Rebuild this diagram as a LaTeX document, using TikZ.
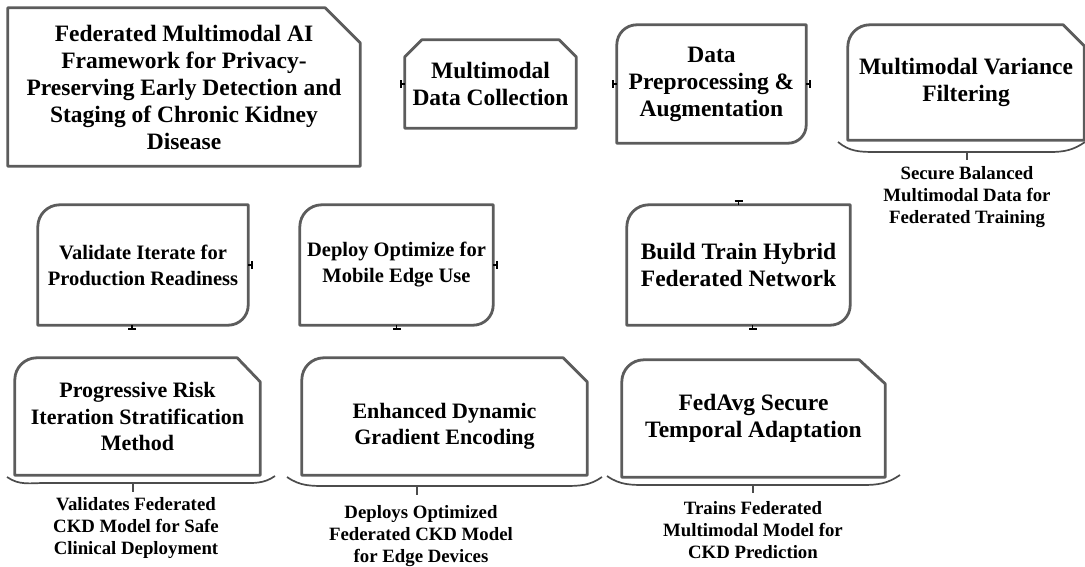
\documentclass[tikz,border=0pt]{standalone}
\usepackage{fontspec}
\setmainfont{Liberation Serif}
\usetikzlibrary{positioning}
\usetikzlibrary{arrows.meta}

\begin{document}
\begin{tikzpicture}[x=1pt,y=1pt,
	boxline/.style={draw=black!64, line width=2.8pt, line join=round},
	braceline/.style={draw=black!70, line width=1.7pt},
	stub/.style={-{Bar[width=8pt,line width=2pt]}, line width=1.8pt},
	bigtxt/.style={font=\bfseries\fontsize{23.5}{27}\selectfont, align=center, inner sep=0pt},
	midtxt/.style={font=\bfseries\fontsize{22}{26.5}\selectfont, align=center, inner sep=0pt},
	smalltxt/.style={font=\bfseries\fontsize{20.5}{26}\selectfont, align=center, inner sep=0pt},
	captxt/.style={font=\bfseries\fontsize{18.8}{22}\selectfont, align=center, inner sep=0pt}]
				\useasboundingbox (0,0) rectangle (1085,566);

				% first row
				\node[bigtxt, minimum width=352pt, minimum height=158pt] (frame) at (184,479) {Federated Multimodal AI\\Framework for Privacy-\\Preserving Early Detection and\\Staging of Chronic Kidney\\Disease};
				\node[bigtxt, minimum width=171pt, minimum height=88pt] (collect) at (490.5,482) {Multimodal\\Data Collection};
				\node[bigtxt, minimum width=189pt, minimum height=118pt] (prep) at (711.5,482) {Data\\Preprocessing \&\\Augmentation};
				\node[bigtxt, minimum width=236pt, minimum height=115pt] (filter) at (966,483.5) {Multimodal Variance\\Filtering};

				% second row
				\node[smalltxt, minimum width=210pt, minimum height=120pt] (validate) at (143,301) {Validate Iterate for\\Production Readiness};
				\node[smalltxt, minimum width=193pt, minimum height=120pt] (deploy) at (396.5,301) {Deploy Optimize for\\Mobile Edge Use};
				\node[bigtxt, minimum width=223pt, minimum height=120pt] (build) at (738.5,301) {Build Train Hybrid\\Federated Network};

				% third row
				\node[midtxt, minimum width=245pt, minimum height=117pt] (risk) at (137.5,149.5) {Progressive Risk\\Iteration Stratification\\Method};
				\node[midtxt, minimum width=285pt, minimum height=117pt] (grad) at (444.5,149.5) {\rule{0pt}{35pt}Enhanced Dynamic\\Gradient Encoding};
				\node[bigtxt, minimum width=263pt, minimum height=117pt] (fedavg) at (753.5,147.5) {FedAvg Secure\\Temporal Adaptation};

				% outlines
				\draw[boxline] (frame.north west) -- ([xshift=-35pt]frame.north east) -- ([yshift=-35pt]frame.north east) -- (frame.south east) -- (frame.south west) -- cycle;
				\draw[boxline] ([yshift=-17pt]collect.north west) -- ([xshift=17pt]collect.north west) -- ([xshift=-17pt]collect.north east) -- ([yshift=-17pt]collect.north east) -- (collect.south east) -- (collect.south west) -- cycle;
				\draw[boxline] ([yshift=-20pt]prep.north west) arc[start angle=180,end angle=90,radius=20pt] -- (prep.north east) -- ([yshift=18pt]prep.south east) arc[start angle=0,end angle=-90,radius=18pt] -- (prep.south west) -- cycle;
				\draw[boxline] ([yshift=-22pt]filter.north west) arc[start angle=180,end angle=90,radius=22pt] -- ([xshift=-21pt]filter.north east) -- ([yshift=-21pt]filter.north east) -- (filter.south east) -- (filter.south west) -- cycle;
				\draw[boxline] ([yshift=-22pt]validate.north west) arc[start angle=180,end angle=90,radius=22pt] -- (validate.north east) -- ([yshift=20pt]validate.south east) arc[start angle=0,end angle=-90,radius=20pt] -- (validate.south west) -- cycle;
				\draw[boxline] ([yshift=-22pt]deploy.north west) arc[start angle=180,end angle=90,radius=22pt] -- (deploy.north east) -- ([yshift=20pt]deploy.south east) arc[start angle=0,end angle=-90,radius=20pt] -- (deploy.south west) -- cycle;
				\draw[boxline] ([yshift=-22pt]build.north west) arc[start angle=180,end angle=90,radius=22pt] -- (build.north east) -- ([yshift=20pt]build.south east) arc[start angle=0,end angle=-90,radius=20pt] -- (build.south west) -- cycle;
				\draw[boxline] ([yshift=-22pt]risk.north west) arc[start angle=180,end angle=90,radius=22pt] -- ([xshift=-23pt]risk.north east) -- ([yshift=-24pt]risk.north east) -- (risk.south east) -- (risk.south west) -- cycle;
				\draw[boxline] ([yshift=-22pt]grad.north west) arc[start angle=180,end angle=90,radius=22pt] -- ([xshift=-24pt]grad.north east) -- ([yshift=-24pt]grad.north east) -- (grad.south east) -- (grad.south west) -- cycle;
				\draw[boxline] ([yshift=-22pt]fedavg.north west) arc[start angle=180,end angle=90,radius=22pt] -- ([xshift=-26pt]fedavg.north east) -- ([yshift=-24pt]fedavg.north east) -- (fedavg.south east) -- (fedavg.south west) -- cycle;

				% braces and outputs
				\node[captxt] (capfilter) at (967,369) {Secure Balanced\\Multimodal Data for\\Federated Training};
				\node[captxt] (caprisk) at (136,38) {Validates Federated\\CKD Model for Safe\\Clinical Deployment};
				\node[captxt] (capgrad) at (421,30) {Deploys Optimized\\Federated CKD Model\\for Edge Devices};
				\node[captxt] (capfed) at (753,36) {Trains Federated\\Multimodal Model for\\CKD Prediction};

				\coordinate (bfilter) at (967,414);
				\coordinate (brisk) at (133,83);
				\coordinate (bgrad) at (417,80);
				\coordinate (bfed) at (753,81);
				\draw[braceline] (838,424) to[out=-40,in=180] (875,414) -- (1050,414) to[out=0,in=215] (1085,424);
				\draw[braceline] (7,89) to[out=-35,in=180] (45,83) -- (240,83) to[out=0,in=215] (275,90);
				\draw[braceline] (287,89) to[out=-35,in=180] (327,80) -- (565,80) to[out=0,in=215] (602,89);
				\draw[braceline] (607,90) to[out=-35,in=180] (647,81) -- (863,81) to[out=0,in=215] (900,91);
				\draw[braceline] (bfilter) -- ++(0,-8);
				\draw[braceline] (brisk) -- ++(0,-9);
				\draw[braceline] (bgrad) -- ++(0,-9);
				\draw[braceline] (bfed) -- ++(0,-8);

				% connection stubs
				\coordinate[left=5pt of collect.west] (tcollect);
				\coordinate[left=5pt of prep.west] (tprepin);
				\coordinate[right=5pt of prep.east] (tprepout);
				\coordinate[right=5pt of validate.east] (tvalidate);
				\coordinate[below=5pt of validate.south, xshift=-11pt] (bvalidate);
				\coordinate[right=5pt of deploy.east] (tdeploy);
				\coordinate[below=5pt of deploy.south] (bdeploy);
				\coordinate[above=5pt of build.north] (tbuild);
				\coordinate[below=5pt of build.south, xshift=14pt] (bbuild);
				\path[stub]
				(collect.west) edge (tcollect)
				(prep.west) edge (tprepin)
				(prep.east) edge (tprepout)
				(validate.east) edge (tvalidate)
				([xshift=-11pt]validate.south) edge (bvalidate)
				(deploy.east) edge (tdeploy)
				(deploy.south) edge (bdeploy)
				(build.north) edge (tbuild)
				([xshift=14pt]build.south) edge (bbuild);
\end{tikzpicture}
\end{document}
